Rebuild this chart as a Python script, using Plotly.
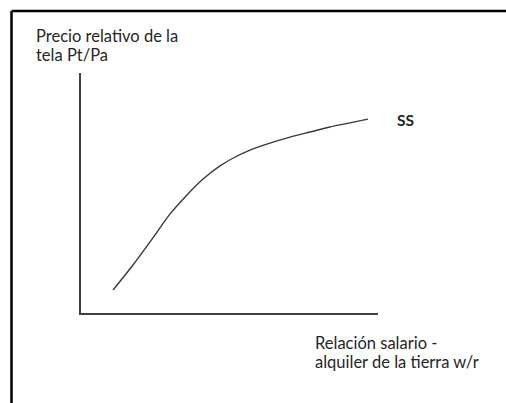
import plotly.graph_objects as go

# curva SS: relacion salario-alquiler (w/r) vs precio relativo de la tela (Pt/Pa)
wr = [1.08, 1.75, 2.42, 3.0, 3.57, 4.11, 4.68, 5.19, 5.69, 6.36, 7.04, 7.71, 8.38, 9.06, 9.66]
pt_pa = [0.96, 2.0, 3.13, 4.13, 4.92, 5.58, 6.13, 6.5, 6.79, 7.08, 7.33, 7.54, 7.75, 7.92, 8.08]

y_label = ["Precio relativo de la", "tela Pt/Pa"]
x_label = ["Relación salario -", "alquiler de la tierra w/r"]
curve_label = "SS"

W, H = 506, 403
L, R, T, B = 81, 378, 73, 313  # plot area in pixels


def px(x):
    return (x - L) / (R - L)


def py(y):
    return (B - y) / (B - T)


FONT = "Lato"
TXT = "#262626"

fig = go.Figure()
fig.add_trace(go.Scatter(x=wr, y=pt_pa, mode="lines",
                         line=dict(color="#3a3a3a", width=1.4, shape="spline", smoothing=0.8),
                         hoverinfo="skip", showlegend=False))

ann = []
# etiquetas del eje y
ann.append(dict(text=y_label[0], x=px(34), y=py(35.5)))
ann.append(dict(text=y_label[1], x=px(34), y=py(55)))
# etiqueta de la curva
ann.append(dict(text="<b>" + curve_label + "</b>", x=px(395), y=py(120), size=15.5))
# etiquetas del eje x
ann.append(dict(text=x_label[0], x=px(313), y=py(342.5)))
ann.append(dict(text=x_label[1], x=px(313), y=py(361.5)))
for a in ann:
    size = a.pop("size", 16.5)
    a.update(xref="paper", yref="paper", xanchor="left", yanchor="middle",
             showarrow=False, font=dict(family=FONT, size=size, color=TXT))

# marco (solo se ven los bordes superior e izquierdo); franja blanca a la derecha
shapes = [
    dict(type="rect", xref="paper", yref="paper", x0=px(488), x1=px(W), y0=py(0), y1=py(H),
         fillcolor="white", line=dict(width=0), layer="above"),
    dict(type="line", xref="paper", yref="paper", x0=px(11.5), x1=px(W), y0=py(11), y1=py(11),
         line=dict(color="black", width=2.5)),
    dict(type="line", xref="paper", yref="paper", x0=px(11.5), x1=px(11.5), y0=py(11), y1=py(H),
         line=dict(color="black", width=2.5)),
]

axis = dict(range=[0, 10], showgrid=False, zeroline=False, showticklabels=False,
            ticks="", showline=True, linecolor="#404040", linewidth=2, fixedrange=True)

fig.update_layout(
    width=W, height=H,
    margin=dict(l=L, r=W - R, t=T, b=H - B),
    paper_bgcolor="white", plot_bgcolor="white",
    xaxis=axis, yaxis=axis,
    annotations=ann, shapes=shapes,
    showlegend=False,
)

# sin margen ni barras de desplazamiento para que la figura quede en 0,0
fig.write_html("out.html", config={"displayModeBar": False},
               post_script="document.body.style.margin='0';"
                           "document.body.style.overflow='hidden';"
                           "document.documentElement.style.overflow='hidden';")
